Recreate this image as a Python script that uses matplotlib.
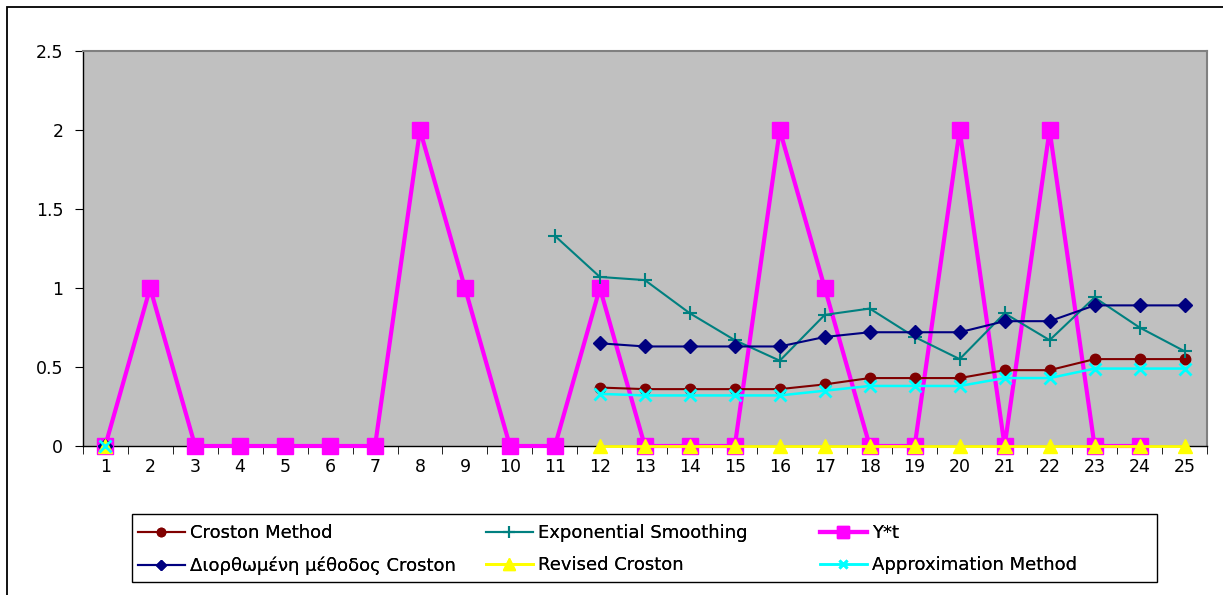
import numpy as np
import matplotlib
matplotlib.use("Agg")
import matplotlib.pyplot as plt
from matplotlib.patches import Rectangle

nan = np.nan
periods = list(range(1, 26))

# actual demand Y*t (no value at period 25)
y_t = [0, 1, 0, 0, 0, 0, 0, 2, 1, 0, 0, 1, 0, 0, 0, 2, 1, 0, 0, 2, 0, 2, 0, 0, nan]

croston = [0] + [nan] * 10 + [0.37, 0.36, 0.36, 0.36, 0.36, 0.39, 0.43, 0.43, 0.43,
                              0.48, 0.48, 0.55, 0.55, 0.55]
exp_smooth = [0] + [nan] * 9 + [1.33, 1.07, 1.05, 0.84, 0.67, 0.54, 0.83, 0.87, 0.69,
                                0.55, 0.84, 0.67, 0.94, 0.75, 0.60]
diorth = [0] + [nan] * 10 + [0.65, 0.63, 0.63, 0.63, 0.63, 0.69, 0.72, 0.72, 0.72,
                             0.79, 0.79, 0.89, 0.89, 0.89]
revised = [0] + [nan] * 10 + [0] * 14
approx = [0] + [nan] * 10 + [0.33, 0.32, 0.32, 0.32, 0.32, 0.35, 0.38, 0.38, 0.38,
                             0.43, 0.43, 0.49, 0.49, 0.49]

yticks = [0, 0.5, 1, 1.5, 2, 2.5]
ytick_labels = ["0", "0.5", "1", "1.5", "2", "2.5"]

plt.rcParams['font.family'] = ['DejaVu Sans']

W, H = 1223, 595
fig = plt.figure(figsize=(W / 100, H / 100), dpi=100)
ax = fig.add_axes([82.7 / W, 1 - 446 / H, (1207 - 82.7) / W, (446 - 51) / H])
ax.set_facecolor("#C0C0C0")

# outer chart border (right/bottom run off the picture)
fig.patches.append(Rectangle((7 / W, -0.05), 1.1, 1 - 7 / H + 0.05, transform=fig.transFigure,
                             fill=False, edgecolor="black", linewidth=1.3))

l_y, = ax.plot(periods, y_t, color="#FF00FF", lw=3, marker="s", ms=11, zorder=3,
               clip_on=False, label="Y*t")
l_cro, = ax.plot(periods, croston, color="#800000", lw=1.5, marker="o", ms=7.5, zorder=4,
                 clip_on=False, label="Croston Method")
l_exp, = ax.plot(periods, exp_smooth, color="#008080", lw=1.5, marker="+", ms=10, mew=1.5,
                 zorder=4, clip_on=False, label="Exponential Smoothing")
l_dio, = ax.plot(periods, diorth, color="#000080", lw=1.5, marker="D", ms=7, zorder=5,
                 clip_on=False, label="Διορθωμένη μέθοδος Croston")
l_rev, = ax.plot(periods, revised, color="#FFFF00", lw=2, marker="^", ms=10, zorder=6,
                 clip_on=False, label="Revised Croston")
l_app, = ax.plot(periods, approx, color="#00FFFF", lw=1.8, marker="x", ms=8, mew=2,
                 zorder=6, clip_on=False, label="Approximation Method")

ax.set_xlim(0.5, 25.5)
ax.set_ylim(0, 2.5)
ax.set_yticks(yticks)
ax.set_yticklabels(ytick_labels, fontsize=12.5)
ax.set_xticks(periods)
ax.set_xticklabels([str(p) for p in periods], fontsize=12.5)
ax.set_xticks(np.arange(0.5, 26, 1), minor=True)
ax.tick_params(axis="x", which="major", length=0, pad=9)
ax.tick_params(axis="x", which="minor", length=6, direction="out", color="black")
ax.tick_params(axis="y", length=6, direction="out", pad=8)

for side in ["top", "right"]:
    ax.spines[side].set_color("#808080")
    ax.spines[side].set_linewidth(1.5)
for side in ["left", "bottom"]:
    ax.spines[side].set_color("black")
    ax.spines[side].set_linewidth(1)

# legend: frame + three fixed columns
fig.patches.append(Rectangle((132 / W, 1 - 582 / H), (1157 - 132) / W, (582 - 514) / H,
                             transform=fig.transFigure, fill=False, edgecolor="black",
                             linewidth=1))
columns = [([l_cro, l_dio], 138), ([l_exp, l_rev], 486), ([l_y, l_app], 820)]
for hs, xpix in columns:
    lg = fig.legend(handles=hs, loc="upper left", bbox_to_anchor=(xpix / W, 1 - 524 / H),
                    fontsize=13, frameon=False, handlelength=2.6, handletextpad=0.3,
                    labelspacing=0.8, borderaxespad=0, borderpad=0, markerscale=0.8)
    fig.add_artist(lg)

fig.savefig("out.png", dpi=100, facecolor="white")
